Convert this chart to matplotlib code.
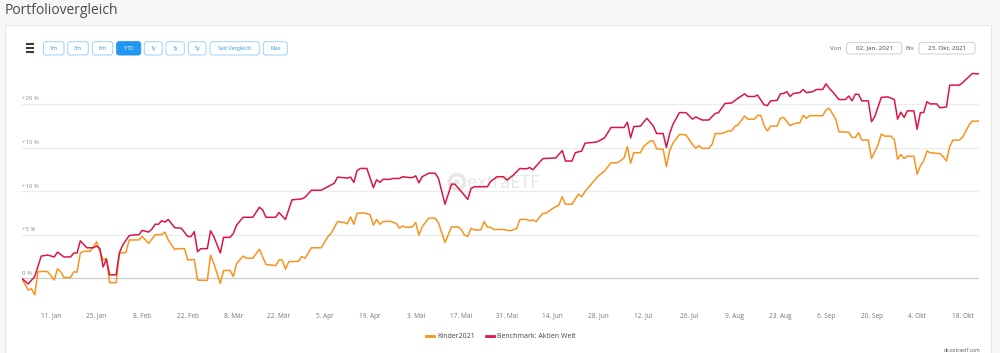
import matplotlib
matplotlib.use("Agg")
import matplotlib.pyplot as plt
import matplotlib.transforms as mtransforms
from matplotlib.patches import FancyBboxPatch, Rectangle, Circle
import pandas as pd

plt.rcParams['font.family'] = ['Open Sans', 'DejaVu Sans']

# Tage seit dem 02.01.2021 und Performance in %
start = pd.Timestamp("2021-01-02")

tage_kinder = [0, 2, 3, 4, 5, 7, 8, 10, 11, 12, 13, 15, 16, 17, 18, 19, 21, 22, 23, 25,
               26, 27, 29, 30, 32, 33, 36, 37, 39, 41, 43, 44, 45, 47, 48, 50, 51, 53, 54, 57,
               58, 59, 61, 62, 64, 65, 66, 68, 69, 71, 73, 75, 78, 79, 80, 81, 82, 85, 86, 87,
               89, 92, 94, 95, 97, 99, 100, 101, 102, 103, 105, 107, 108, 109, 110, 111, 113, 115, 116, 117,
               118, 119, 120, 121, 122, 123, 125, 127, 128, 130, 132, 134, 135, 136, 137, 138, 139, 141, 142, 143,
               144, 145, 148, 150, 152, 153, 155, 156, 157, 158, 160, 161, 163, 165, 166, 167, 169, 171, 172, 173,
               176, 177, 179, 181, 183, 185, 186, 187, 188, 190, 191, 193, 194, 195, 197, 198, 199, 200, 202, 204,
               206, 207, 208, 209, 211, 212, 213, 215, 217, 218, 219, 220, 222, 223, 225, 226, 227, 228, 229, 230,
               232, 233, 234, 236, 237, 239, 240, 241, 242, 246, 247, 248, 250, 251, 254, 255, 256, 257, 258, 260,
               261, 263, 264, 265, 267, 268, 269, 270, 271, 272, 274, 275, 276, 277, 278, 279, 282, 283, 284, 285,
               286, 288, 289, 291, 292, 293, 294]
werte_kinder = [0.0, -1.35, -1.2, -1.9, 0.75, 0.8, 0.75, -0.2, 1.1, 0.75, 0.1, 0.1, 0.75, 0.7, 2.9, 3.1, 3.1, 3.6, 4.2, 2.1,
                2.3, -0.5, -0.5, 2.9, 2.95, 4.4, 4.4, 4.8, 4.0, 5.0, 5.0, 5.3, 4.4, 3.3, 3.4, 3.4, 2.1, 2.15, -0.2, -0.25,
                2.65, 1.7, -0.6, 0.9, 0.9, 0.2, 1.7, 2.55, 2.3, 2.3, 3.35, 1.6, 1.45, 2.1, 2.1, 1.05, 1.9, 1.95, 2.5, 2.3,
                3.5, 3.5, 4.75, 5.15, 6.5, 6.4, 6.25, 7.05, 6.2, 7.45, 7.5, 7.3, 6.1, 6.75, 6.2, 6.5, 6.55, 6.3, 5.75, 6.0,
                5.85, 5.85, 5.9, 6.4, 4.95, 5.9, 6.9, 6.9, 6.35, 4.1, 5.9, 5.9, 5.6, 4.95, 4.8, 5.75, 5.55, 5.55, 6.5, 5.85,
                5.85, 5.6, 5.6, 5.45, 5.7, 6.75, 6.75, 6.6, 6.7, 6.5, 7.45, 7.45, 8.0, 8.4, 9.35, 8.5, 8.5, 9.65, 9.35, 9.95,
                11.25, 11.7, 12.3, 13.25, 13.25, 13.8, 15.1, 13.2, 14.4, 14.4, 15.1, 15.75, 15.75, 14.85, 14.8, 12.8, 14.65, 15.5, 16.5, 16.45,
                15.35, 14.9, 15.2, 14.9, 14.9, 15.35, 16.6, 16.6, 16.9, 16.9, 17.4, 17.6, 18.6, 18.25, 18.25, 18.7, 18.65, 17.5, 16.9, 17.45,
                17.45, 18.35, 18.45, 17.5, 17.7, 17.85, 18.7, 18.35, 18.65, 18.65, 19.3, 19.5, 18.25, 16.8, 16.75, 16.15, 16.15, 16.7, 15.85, 15.85,
                13.75, 15.3, 16.55, 16.3, 16.3, 15.9, 13.65, 14.2, 13.75, 14.0, 14.0, 11.95, 12.9, 13.45, 14.6, 14.4, 14.3, 13.95, 13.45, 15.1,
                15.85, 15.85, 16.2, 17.6, 18.05, 18.0, 18.05]

tage_bench = [0, 2, 4, 6, 8, 10, 11, 13, 15, 16, 17, 18, 20, 22, 23, 24, 25, 26, 27, 29,
              30, 31, 33, 35, 36, 37, 39, 40, 41, 42, 43, 44, 45, 47, 49, 51, 52, 53, 54, 55,
              57, 58, 59, 61, 62, 64, 65, 66, 68, 71, 73, 74, 75, 78, 79, 81, 83, 86, 87, 89,
              92, 94, 96, 97, 100, 101, 102, 103, 104, 106, 108, 109, 110, 111, 113, 114, 116, 117, 119, 120,
              121, 122, 123, 125, 127, 128, 130, 132, 133, 135, 137, 138, 139, 143, 144, 146, 148, 149, 151, 153,
              155, 156, 157, 160, 161, 164, 166, 167, 169, 170, 172, 173, 176, 177, 179, 181, 184, 185, 186, 187,
              188, 190, 192, 194, 195, 197, 198, 199, 200, 202, 204, 206, 207, 209, 211, 213, 214, 216, 218, 220,
              222, 223, 225, 226, 228, 229, 230, 232, 233, 234, 235, 236, 237, 239, 240, 241, 243, 244, 246, 247,
              248, 249, 251, 253, 254, 255, 256, 257, 258, 260, 261, 262, 264, 266, 268, 269, 270, 271, 272, 274,
              275, 276, 277, 278, 279, 281, 282, 284, 285, 288, 289, 290, 292, 293, 294]
werte_bench = [0.0, -0.65, 0.2, 2.55, 2.67, 2.45, 3.0, 2.45, 2.45, 2.9, 2.9, 4.3, 3.5, 3.5, 3.7, 3.4, 1.3, 2.2, 0.4, 0.4,
               2.9, 3.8, 4.9, 5.0, 5.0, 5.5, 5.3, 5.65, 6.2, 6.2, 6.6, 6.45, 6.75, 5.8, 5.75, 4.8, 4.8, 5.35, 3.05, 3.4,
               3.4, 5.45, 4.8, 2.9, 4.7, 4.7, 5.15, 6.1, 7.0, 7.0, 8.15, 7.85, 7.0, 7.0, 7.55, 6.75, 9.0, 9.1, 9.3, 10.1,
               10.1, 10.5, 10.9, 11.6, 11.5, 11.6, 11.0, 12.35, 12.6, 12.6, 10.4, 11.3, 11.0, 11.35, 11.35, 11.45, 11.45, 11.65, 11.55, 11.55,
               11.75, 10.95, 11.65, 12.05, 12.05, 11.45, 8.5, 10.8, 10.8, 9.95, 9.05, 10.3, 10.5, 10.5, 11.1, 11.65, 11.65, 11.25, 11.85, 12.6,
               12.55, 12.7, 12.45, 13.7, 13.75, 13.8, 14.65, 13.45, 13.45, 14.4, 14.6, 15.5, 15.6, 15.7, 16.1, 17.3, 17.3, 17.3, 17.9, 16.1,
               17.4, 17.45, 18.35, 17.45, 16.6, 16.6, 15.0, 16.6, 17.65, 19.0, 19.0, 18.25, 18.5, 18.15, 18.15, 18.9, 19.0, 20.05, 20.1, 20.65,
               21.15, 20.85, 20.85, 21.0, 19.9, 19.8, 20.35, 20.4, 21.15, 21.2, 21.4, 20.85, 21.2, 21.3, 21.65, 21.3, 21.4, 21.65, 21.65, 22.3,
               21.8, 21.4, 20.5, 20.5, 20.9, 20.35, 21.1, 21.1, 20.35, 20.35, 17.95, 18.55, 20.75, 20.8, 20.5, 18.25, 19.05, 18.45, 19.2, 19.2,
               17.1, 19.0, 19.0, 20.25, 20.0, 20.0, 19.55, 19.65, 22.15, 22.15, 22.45, 22.8, 23.5, 23.45, 23.45]

tick_tage = [9, 23, 37, 51, 65, 79, 93, 107, 121, 135, 149, 163, 177, 191, 205, 219, 233, 247, 261, 275, 289]
tick_labels = ["11. Jan", "25. Jan", "8. Feb", "22. Feb", "8. Mär", "22. Mär", "5. Apr", "19. Apr", "3. Mai",
               "17. Mai", "31. Mai", "14. Jun", "28. Jun", "12. Jul", "26. Jul", "9. Aug", "23. Aug", "6. Sep",
               "20. Sep", "4. Okt", "18. Okt"]
y_ticks = [0, 5, 10, 15, 20]
y_labels = ["0 %", "+5 %", "+10 %", "+15 %", "+20 %"]

buttons = ["1m", "3m", "6m", "YTD", "1y", "3y", "5y", "Seit Vergleich", "Max"]
button_x = [(43.5, 64), (67.7, 88.3), (92.3, 112.7), (116.7, 140.7), (144.3, 162.3),
            (166, 184.3), (188.3, 206), (210, 259.3), (263.3, 287.3)]

orange = "#f7941d"
rot = "#dc1644"
blau = "#2196f3"

W, H = 1000, 353
fig = plt.figure(figsize=(W / 100, H / 100), dpi=100)
fig.patch.set_facecolor("#f6f7f9")

# Hintergrund-Achse in Pixelkoordinaten für die Oberfläche
ui = fig.add_axes([0, 0, 1, 1], zorder=0)
ui.set_xlim(0, W)
ui.set_ylim(H, 0)
ui.axis("off")

ui.text(5, 10, "Portfoliovergleich", fontsize=10, color="#4a4a4a", va="center", ha="left")
ui.add_patch(Rectangle((5, 25), 986, 335, facecolor="white", edgecolor="#e4e7ec", linewidth=0.8))

# Menü-Symbol
for yy in [44.3, 48.3, 52.3]:
    ui.plot([25.5, 33.5], [yy, yy], color="#222222", linewidth=1.3, solid_capstyle="butt")

for name, (x0, x1) in zip(buttons, button_x):
    aktiv = name == "YTD"
    ui.add_patch(FancyBboxPatch((x0, 41.7), x1 - x0, 13.3, boxstyle="round,pad=0,rounding_size=2.5",
                                facecolor=blau if aktiv else "white", edgecolor=blau if aktiv else "#9fd0f8",
                                linewidth=0.7))
    ui.text((x0 + x1) / 2, 48.5, name, fontsize=3.8, color="white" if aktiv else blau,
            ha="center", va="center")

ui.text(830, 48, "Von", fontsize=4.6, color="#666666", va="center")
ui.add_patch(FancyBboxPatch((846.7, 42.3), 55, 11.7, boxstyle="round,pad=0,rounding_size=2.5",
                            facecolor="white", edgecolor="#c8c8c8", linewidth=0.6))
ui.text(874.2, 48.2, "02. Jan. 2021", fontsize=4.5, color="#444444", ha="center", va="center")
ui.text(905, 48, "Bis", fontsize=4.6, color="#666666", va="center")
ui.add_patch(FancyBboxPatch((919, 42.3), 56, 11.7, boxstyle="round,pad=0,rounding_size=2.5",
                            facecolor="white", edgecolor="#c8c8c8", linewidth=0.6))
ui.text(947, 48.2, "23. Okt. 2021", fontsize=4.5, color="#444444", ha="center", va="center")

# Wasserzeichen
ui.add_patch(Circle((457, 182), 7.5, facecolor="none", edgecolor="#e8e8e8", linewidth=2.6))
ui.add_patch(Circle((457, 182), 2.8, facecolor="#e8e8e8", edgecolor="none"))
ui.text(467, 182.5, "extraETF", fontsize=13, color="#e6e6e6", va="center", ha="left")

ui.text(980, 350, "de.extraetf.com", fontsize=3.6, color="#555555", ha="right", va="center")

# Diagramm
ax = fig.add_axes([21.7 / W, 1 - 305 / H, (979 - 21.7) / W, (305 - 65) / H], zorder=1)
ax.patch.set_alpha(0)

d_kinder = start + pd.to_timedelta(tage_kinder, unit="D")
d_bench = start + pd.to_timedelta(tage_bench, unit="D")

for v in y_ticks:
    ax.axhline(v, color="#cccccc" if v == 0 else "#ececec", linewidth=0.9, zorder=0)

ax.plot(d_kinder, werte_kinder, color=orange, linewidth=1.1, label="Kinder2021", zorder=2)
ax.plot(d_bench, werte_bench, color=rot, linewidth=1.1, label="Benchmark: Aktien Welt", zorder=3)

ax.set_xlim(start, start + pd.Timedelta(days=294))
ax.set_ylim(-3.06, 24.46)

blend = mtransforms.blended_transform_factory(ax.transAxes, ax.transData)
for v, lab in zip(y_ticks, y_labels):
    ax.annotate(lab, (0.0, v), xycoords=blend, xytext=(0.3, 3.6), textcoords="offset points",
                fontsize=4.4, color="#8a8a8a", va="center", ha="left")

ax.set_yticks([])
ax.set_xticks(start + pd.to_timedelta(tick_tage, unit="D"))
ax.set_xticklabels(tick_labels, fontsize=4.7, color="#777777")
ax.tick_params(axis="x", length=0, pad=5.5)
for s in ax.spines.values():
    s.set_visible(False)

leg = fig.legend(loc="center", bbox_to_anchor=(501 / W, 1 - 337 / H), ncol=2, frameon=False,
                 fontsize=5.0, handlelength=1.1, handletextpad=0.5, columnspacing=1.6)
for line in leg.get_lines():
    line.set_linewidth(2.0)
for t in leg.get_texts():
    t.set_color("#444444")

fig.savefig("out.png", dpi=100, facecolor=fig.get_facecolor())
